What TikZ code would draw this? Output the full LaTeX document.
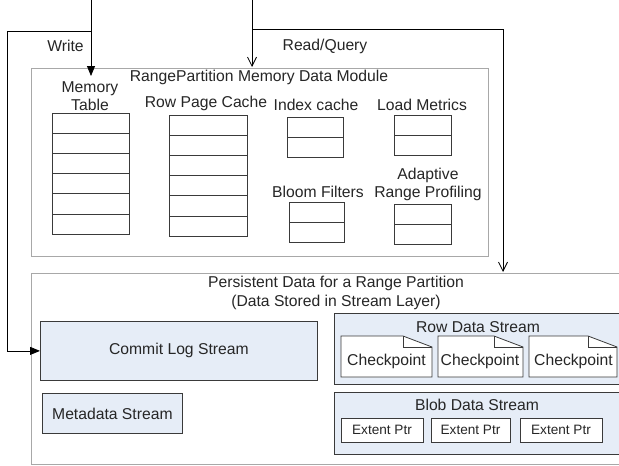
\documentclass[tikz,border=0pt]{standalone}
\usepackage{fontspec}
\setmainfont{Liberation Sans}
\usetikzlibrary{arrows.meta}
\definecolor{lblue}{HTML}{E6EDF7}
\definecolor{bord}{HTML}{3A3A3A}
\definecolor{modg}{HTML}{A8A8A8}
\begin{document}
\begin{tikzpicture}[x=1pt,y=-1pt,
  every node/.style={font=\fontsize{15.7}{18.5}\selectfont, text=black!85, inner sep=0pt, align=center},
  cell/.style={draw=bord, line width=0.8pt, minimum width=#1, minimum height=20.2},
  module/.style={draw=modg, line width=0.9pt},
  stream/.style={draw=bord, line width=0.8pt, fill=lblue},
  ext/.style={draw=bord, line width=0.8pt, fill=white, minimum height=24, font=\fontsize{13.6}{15}\selectfont},
  conn/.style={draw=black, line width=0.8pt},
  fillarrow/.style={-{Triangle[length=10pt,width=8pt]}},
  openarrow/.style={-{Straight Barb[length=9pt,width=9pt,line width=0.8pt]}}
]
\clip (0,0) rectangle (619,466);
\fill[white] (0,0) rectangle (619,466);

% module boxes
\node[module, minimum width=457, minimum height=188, anchor=north west] (mem) at (31,68) {};
\node[module, minimum width=600, minimum height=191, anchor=north west] (pers) at (31,273) {};

% memory module titles
\node (memtitle) at (259,77) {RangePartition Memory Data Module};
\node (mtlbl) at (90,96) {Memory\\Table};
\node (rpclbl) at (206,103) {Row Page Cache};
\node (iclbl) at (316,105) {Index cache};
\node (lmlbl) at (422,105) {Load Metrics};
\node (bflbl) at (318,192) {Bloom Filters};
\node (arplbl) at (428,184.5) {Adaptive\\Range Profiling};

% tables
\foreach \i in {1,...,6} {
  \node[cell=77] (mt\i) at (90.5,{113+10.1+20.2*(\i-1)}) {};
  \node[cell=78] (rpc\i) at (208,{115+10.1+20.2*(\i-1)}) {};
}
\foreach \i in {1,2} {
  \node[cell=56] (ic\i) at (315,{117+10.1+20.2*(\i-1)}) {};
  \node[cell=57] (lm\i) at (422.5,{115+10.1+20.2*(\i-1)}) {};
  \node[cell=55] (bf\i) at (316.5,{202+10.1+20.2*(\i-1)}) {};
  \node[cell=57] (arp\i) at (422.5,{204+10.1+20.2*(\i-1)}) {};
}

% persistent
\node (perstitle) at (336,293) {Persistent Data for a Range Partition\\(Data Stored in Stream Layer)};
\node[stream, minimum width=277, minimum height=59, anchor=north west] (clog) at (40,321) {};
\node at (clog.center) {Commit Log Stream};
\node[stream, minimum width=140, minimum height=40, anchor=north west] (meta) at (42,393) {};
\node at (meta.center) {Metadata Stream};
\node[stream, minimum width=300, minimum height=71, anchor=north west] (rds) at (334,313) {};
\node (rdstitle) at (478,327) {Row Data Stream};
\node[stream, minimum width=300, minimum height=62, anchor=north west] (bds) at (334,392) {};
\node (bdstitle) at (477,405) {Blob Data Stream};

% checkpoints
\foreach \n/\xa/\xb/\tx in {1/341/432/386.5, 2/438/523/480, 3/529/617/573.5} {
  \draw[line width=0.8pt, draw=bord, fill=white]
    (\xa,336) -- ({\xb-29},336) -- (\xb,347) -- (\xb,377) -- (\xa,377) -- cycle;
  \draw[line width=0.8pt, draw=bord] ({\xb-29},336) -- ({\xb-29},347) -- (\xb,347);
  \node (cp\n) at (\tx,361) {Checkpoint};
}

% extent ptrs
\node[ext, minimum width=82] (ep1) at (382,430) {Extent Ptr};
\node[ext, minimum width=79] (ep2) at (470.5,430) {Extent Ptr};
\node[ext, minimum width=82] (ep3) at (561,430) {Extent Ptr};

% connectors
\coordinate (wtop) at (91,0);
\coordinate (wsplit) at (91,31);
\coordinate (wtip) at (91,76);
\coordinate (wl1) at (7,31);
\coordinate (rtop) at (252,0);
\coordinate (rsplit) at (252,29);
\coordinate (rtip) at (252,67);
\coordinate (rr1) at (503,29);
\coordinate (rtip2) at (503,272);

\draw[conn, fillarrow] (wtop) -- (wtip);
\draw[conn, fillarrow] (wsplit) -- (wl1) |- (clog.west);
\draw[conn, openarrow] (rtop) -- (rtip);
\draw[conn, openarrow] (rsplit) -- (rr1) -- (rtip2);

\node (wlbl) at (65.5,46) {Write};
\node (rlbl) at (325,46) {Read/Query};
\end{tikzpicture}
\end{document}
